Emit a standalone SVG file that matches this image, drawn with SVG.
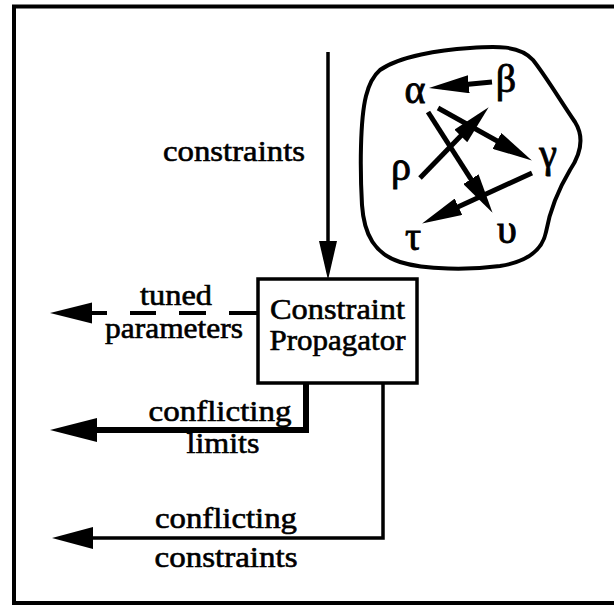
<svg xmlns="http://www.w3.org/2000/svg" width="614" height="606" viewBox="0 0 614 606">
<defs>
<style>
.t{font-family:"Liberation Serif","Times New Roman",serif;font-size:29px;fill:#000;stroke:#000;stroke-width:0.6;text-anchor:middle}
.g{font-family:"Liberation Serif","DejaVu Serif",serif;font-size:40px;fill:#000;stroke:#000;stroke-width:0.9;text-anchor:middle}
.ln{fill:none;stroke:#000;stroke-linecap:butt;stroke-linejoin:miter}
.gl{fill:none;stroke:#000;stroke-width:5}
.hd{fill:#000;stroke:none}
</style>
<marker id="gh" viewBox="0 0 40 18" markerWidth="40" markerHeight="18" refX="27" refY="9" orient="auto" markerUnits="userSpaceOnUse">
<path d="M0,0 L40,9 L0,18 Z" fill="#000"/>
</marker>
</defs>
<rect width="614" height="606" fill="#fff"/>
<rect id="frame" x="14" y="6.5" width="620" height="596.5" fill="none" stroke="#000" stroke-width="4"/>

<g id="propagator">
<rect x="258" y="279" width="159" height="104" fill="#fff" stroke="#000" stroke-width="3.5"/>
<text class="t" x="337.5" y="319" font-size="28" textLength="135" lengthAdjust="spacingAndGlyphs">Constraint</text>
<text class="t" x="337.5" y="350" font-size="28" textLength="136" lengthAdjust="spacingAndGlyphs">Propagator</text>
</g>

<g id="network">
<path d="M 380,70 C 400,56 440,50 470,48 C 495,46 520,45 533,60 C 545,75 560,100 575,122 C 585,138 580,155 570,170 C 558,190 550,210 546,232 C 542,252 525,262 500,266 C 470,270 425,270 400,262 C 375,254 364,235 362,205 C 360,170 360,120 366,96 C 369,84 373,76 380,70 Z" fill="none" stroke="#000" stroke-width="4"/>
<text class="g" x="415" y="103">α</text>
<text class="g" x="506" y="92">β</text>
<text class="g" x="401" y="180">ρ</text>
<text class="g" x="548" y="167">γ</text>
<text class="g" x="413" y="250">τ</text>
<text class="g" x="507" y="243">υ</text>
<g id="network-arrows">
<line class="gl" x1="492" y1="82" x2="441.9" y2="86.8" marker-end="url(#gh)"/>
<line class="gl" x1="438" y1="108" x2="520.5" y2="154.1" marker-end="url(#gh)"/>
<line class="gl" x1="428" y1="112" x2="485.5" y2="201.9" marker-end="url(#gh)"/>
<line class="gl" x1="420" y1="178" x2="479.6" y2="116.6" marker-end="url(#gh)"/>
<line class="gl" x1="532" y1="173" x2="433.9" y2="218" marker-end="url(#gh)"/>
</g>
</g>

<g id="connectors">
<line class="ln" x1="328" y1="52" x2="328" y2="245" stroke-width="3.5"/>
<polygon class="hd" points="328,280 319,241 337,241"/>

<g stroke="#000" stroke-width="4">
<line x1="229" y1="313" x2="258" y2="313"/>
<line x1="179" y1="313" x2="206" y2="313"/>
<line x1="130" y1="313" x2="156" y2="313"/>
<line x1="88" y1="313" x2="107" y2="313"/>
</g>
<polygon class="hd" points="50,313 92,302.5 92,323.5"/>

<polyline class="ln" points="306,383 306,430 95,430" stroke-width="6"/>
<polygon class="hd" points="50,430 97,418 97,442"/>

<polyline class="ln" points="383,383 383,538 91,538" stroke-width="3.5"/>
<polygon class="hd" points="52,538 93,527 93,549"/>
</g>

<g id="labels">
<text class="t" x="234" y="161" textLength="142" lengthAdjust="spacingAndGlyphs">constraints</text>
<text class="t" x="176" y="305" textLength="72" lengthAdjust="spacingAndGlyphs">tuned</text>
<text class="t" x="174" y="338" textLength="138" lengthAdjust="spacingAndGlyphs">parameters</text>
<text class="t" x="220" y="421" textLength="143" lengthAdjust="spacingAndGlyphs">conflicting</text>
<text class="t" x="223" y="453" textLength="73" lengthAdjust="spacingAndGlyphs">limits</text>
<text class="t" x="226" y="528" textLength="142" lengthAdjust="spacingAndGlyphs">conflicting</text>
<text class="t" x="226" y="567" textLength="143" lengthAdjust="spacingAndGlyphs">constraints</text>
</g>
</svg>
